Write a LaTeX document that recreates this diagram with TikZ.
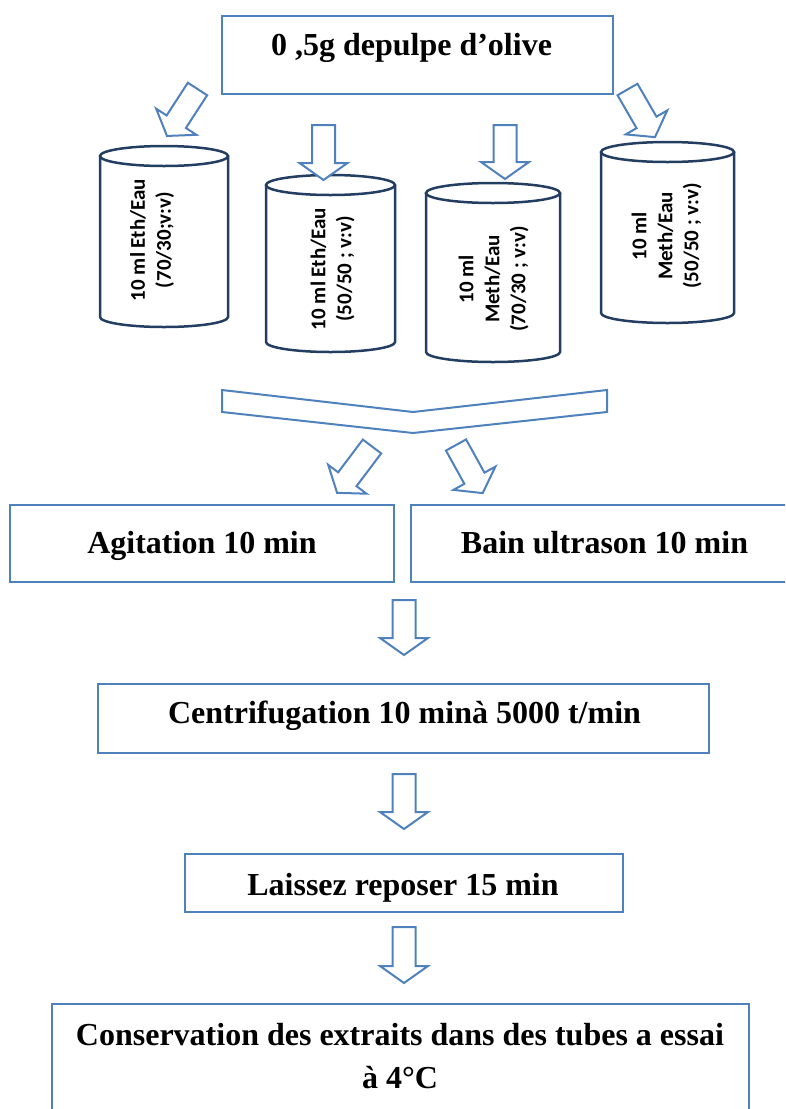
\documentclass[tikz,border=0pt]{standalone}
\usepackage{fontspec}
\setmainfont{Liberation Serif}
\newfontfamily\cylfont{Carlito}
\definecolor{boxblue}{RGB}{79,129,189}
\definecolor{cylnavy}{RGB}{36,62,98}
\tikzset{
  flowbox/.style={draw=boxblue, line width=2pt, inner sep=0pt},
  flowtext/.style={font=\fontsize{32}{41}\selectfont\bfseries, inner sep=0pt, anchor=base},
  cylline/.style={draw=cylnavy, line width=2.5pt},
  cyltext/.style={font=\cylfont\bfseries\fontsize{21}{26}\selectfont, align=center, rotate=90, inner sep=0pt},
  barrowline/.style={draw=boxblue, line width=2pt, fill=white, line join=miter},
}
\newcommand\blockarrow[4]{%
  \draw[barrowline, shift={(#1,#2)}, rotate=#3]
    (0,-11.5) -- ({#4-17},-11.5) -- ({#4-17},-24) -- (#4,0) -- ({#4-17},24) -- ({#4-17},11.5) -- (0,11.5) -- cycle;}
\newcommand\tube[4]{%
  \draw[cylline, fill=white] ({#1-#4},#2) -- ({#1-#4},#3)
    arc[start angle=180, end angle=360, x radius=#4pt, y radius=10pt] -- ({#1+#4},#2);
  \draw[cylline, fill=white] (#1,#2) ellipse [x radius=#4pt, y radius=10pt];}
\begin{document}
\begin{tikzpicture}[x=1pt, y=-1pt]
\useasboundingbox (0,0) rectangle (785,1109);
\clip (0,0) rectangle (785,1109);

% top box
\node[flowbox, minimum width=391, minimum height=78] (topbox) at (417.5,55) {};
\node[flowtext] (topt) at (411.5,55) {0 ,5g depulpe d’olive};

% tubes
\tube{164}{156}{317}{64}
\tube{330.5}{185}{342}{64.5}
\tube{493}{193}{352}{67}
\tube{667.5}{152}{313}{66.5}
\node[cyltext] (cyl1) at (152,240) {10 ml Eth/Eau\\(70/30;v:v)};
\node[cyltext] (cyl2) at (332.5,269) {10 ml Eth/Eau\\(50/50 ; v:v)};
\node[cyltext] (cyl3) at (493.5,279) {10 ml\\Meth/Eau\\(70/30 ; v:v)};
\node[cyltext] (cyl4) at (666.5,236) {10 ml\\Meth/Eau\\(50/50 ; v:v)};

% arrows to tubes
\blockarrow{197.5}{89}{-123}{56}
\blockarrow{323.5}{125}{-90}{55}
\blockarrow{505}{125}{-90}{54}
\blockarrow{627.5}{89.5}{-60}{55}

% chevron
\draw[barrowline] (222,390) -- (413,412) -- (607,390) -- (607,412) -- (413,433) -- (222,412) -- cycle;

% arrows to the two boxes
\blockarrow{372}{446.5}{-127}{58}
\blockarrow{456}{445}{-61}{55}

% Agitation / Bain
\node[flowbox, minimum width=384, minimum height=77] (agit) at (202,543.5) {};
\node[flowtext] (agitt) at (202,553) {Agitation 10 min};
\node[flowbox, minimum width=387, minimum height=77] (bain) at (604.5,543.5) {};
\node[flowtext] (baint) at (604.5,553) {Bain ultrason 10 min};

\blockarrow{404}{600}{-90}{55}

% Centrifugation
\node[flowbox, minimum width=611, minimum height=69] (centri) at (403.5,718.5) {};
\node[flowtext] (centrit) at (404.5,723) {Centrifugation 10 minà 5000 t/min};

\blockarrow{404}{774}{-90}{55}

% Laissez
\node[flowbox, minimum width=438, minimum height=58] (laiss) at (404,883) {};
\node[flowtext] (laisst) at (403,895) {Laissez reposer 15 min};

\blockarrow{404}{927}{-90}{56}

% Conservation
\node[flowbox, minimum width=697, minimum height=126] (cons) at (400.5,1067) {};
\node[flowtext] (const1) at (400,1045) {Conservation des extraits dans des tubes a essai};
\node[flowtext] (const2) at (400,1088) {à 4°C};
\end{tikzpicture}
\end{document}
